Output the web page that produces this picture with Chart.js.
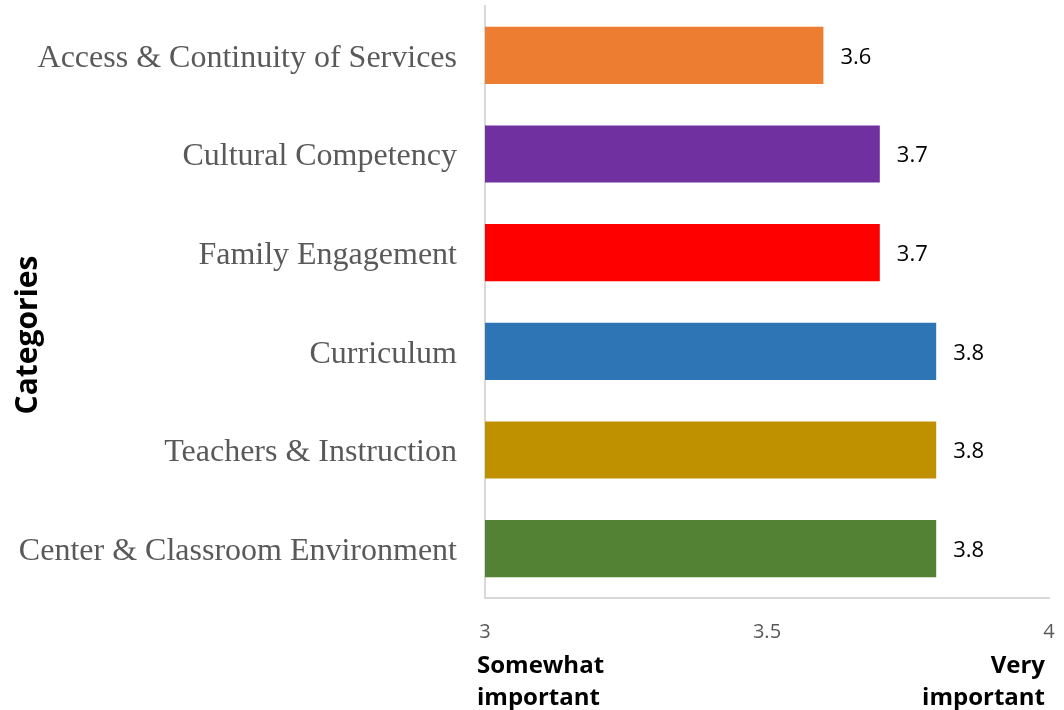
<!DOCTYPE html>
<html>
<head>
<meta charset="utf-8">
<script src="https://cdn.jsdelivr.net/npm/chart.js@4"></script>
<style>
  body { margin: 0; background: #fff; }
  #wrap { width: 1064px; height: 710px; }
</style>
</head>
<body>
<div id="wrap"><canvas id="myChart" width="1064" height="710"></canvas></div>
<script>
var categories = [
    'Access & Continuity of Services',
    'Cultural Competency',
    'Family Engagement',
    'Curriculum',
    'Teachers & Instruction',
    'Center & Classroom Environment'
];
var scores = [3.6, 3.7, 3.7, 3.8, 3.8, 3.8];
var barColors = ['#ED7D31', '#7030A0', '#FF0000', '#2E75B6', '#BF9000', '#548235'];
var scaleMin = 3;
var scaleMax = 4;
var axisTitle = 'Categories';
var scaleLowLabel = ['Somewhat', 'important'];
var scaleHighLabel = ['Very', 'important'];

// value labels at the end of each bar
var valueLabels = {
    id: 'valueLabels',
    afterDatasetsDraw: function(chart) {
        var ctx = chart.ctx;
        var meta = chart.getDatasetMeta(0);
        ctx.save();
        ctx.font = '22px "Open Sans"';
        ctx.fillStyle = '#000';
        ctx.textAlign = 'left';
        ctx.textBaseline = 'middle';
        meta.data.forEach(function(bar, i) {
            ctx.fillText(scores[i].toFixed(1), bar.x + 17, bar.y + 2);
        });
        ctx.restore();
    }
};

// axis title on the left plus "Somewhat important" / "Very important" under the axis ends
var extraText = {
    id: 'extraText',
    afterDraw: function(chart) {
        var ctx = chart.ctx;
        var x = chart.scales.x;
        ctx.save();
        ctx.fillStyle = '#000';
        ctx.textBaseline = 'middle';

        ctx.save();
        ctx.translate(28, 335);
        ctx.rotate(-Math.PI / 2);
        ctx.textAlign = 'center';
        ctx.font = 'bold 30px "Open Sans"';
        ctx.fillText(axisTitle, 0, 0);
        ctx.restore();

        ctx.font = 'bold 24px "Open Sans"';
        ctx.textAlign = 'left';
        scaleLowLabel.forEach(function(t, i) {
            ctx.fillText(t, x.getPixelForValue(scaleMin) - 8, 666 + i * 32);
        });
        ctx.textAlign = 'right';
        scaleHighLabel.forEach(function(t, i) {
            ctx.fillText(t, x.getPixelForValue(scaleMax) - 4, 666 + i * 32);
        });
        ctx.restore();
    }
};

new Chart(document.getElementById('myChart'), {
    type: 'bar',
    data: {
        labels: categories,
        datasets: [{
            data: scores,
            backgroundColor: barColors,
            categoryPercentage: 1,
            barPercentage: 0.58
        }]
    },
    options: {
        indexAxis: 'y',
        responsive: false,
        animation: false,
        layout: { padding: { top: 6, right: 15, left: 0, bottom: 0 } },
        plugins: {
            legend: { display: false },
            tooltip: { enabled: false }
        },
        scales: {
            x: {
                min: scaleMin,
                max: scaleMax,
                grid: { display: false, drawTicks: false },
                border: { color: '#d9d9d9', width: 2 },
                ticks: {
                    stepSize: 0.5,
                    padding: 22,
                    color: '#595959',
                    font: { family: '"Open Sans"', size: 20 },
                    callback: function(v) { return String(v); }
                },
                afterFit: function(scale) {
                    scale.height = 112;
                    scale.paddingLeft = 0;
                    scale.paddingRight = 0;
                }
            },
            y: {
                grid: { display: false, drawTicks: false },
                border: { color: '#d9d9d9', width: 2 },
                ticks: {
                    padding: 28,
                    labelOffset: 3,
                    color: '#595959',
                    font: { family: '"Liberation Serif"', size: 32 }
                },
                afterFit: function(scale) {
                    scale.width = 485;
                    scale.paddingTop = 0;
                    scale.paddingBottom = 0;
                }
            }
        }
    },
    plugins: [valueLabels, extraText]
});
</script>
</body>
</html>
